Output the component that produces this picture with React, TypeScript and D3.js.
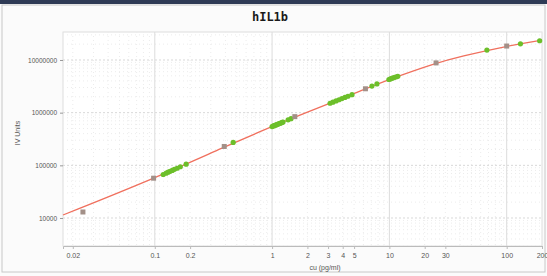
import * as d3 from "d3";
import { useEffect, useRef } from "react";

// standards (4-fold dilution series), concentration pg/ml and IV units
const stdConc = [0.0244, 0.0977, 0.391, 1.5625, 6.25, 25, 100];
const stdUnits = [13000, 57000, 228000, 840000, 2840000, 8800000, 18400000];

// samples read back from the curve
const sampleConc = [
  0.118, 0.125, 0.13, 0.135, 0.141, 0.147, 0.155, 0.165, 0.185, 0.466,
  1.0, 1.02, 1.04, 1.06, 1.08, 1.1, 1.12, 1.15, 1.17, 1.2, 1.22, 1.24, 1.37, 1.45,
  3.12, 3.3, 3.51, 3.72, 3.94, 4.18, 4.43, 4.8, 7.1, 7.83,
  9.9, 10.2, 10.5, 10.8, 11.1, 11.5, 11.8, 67.8, 131, 191,
];
const sampleUnits = [
  67000, 71000, 74000, 77000, 80000, 84000, 88000, 94000, 105000, 272000,
  545000, 556000, 566000, 576000, 585000, 595000, 605000, 620000, 629000, 642000, 654000, 664000, 732000, 769000,
  1510000, 1580000, 1670000, 1760000, 1850000, 1950000, 2050000, 2200000, 3200000, 3510000,
  4260000, 4370000, 4480000, 4580000, 4680000, 4810000, 4910000, 15400000, 20300000, 23200000,
];

// fitted curve
const fitConc = [0.0165, 0.1, 0.4, 1, 1.6, 6.3, 10, 25, 40, 100, 200];
const fitUnits = [11400, 56900, 228000, 545000, 841000, 2840000, 4300000, 8780000, 11600000, 18400000, 23800000];

const xTicks = [0.02, 0.1, 0.2, 1, 2, 3, 4, 5, 10, 20, 30, 100, 200];
const yTicks = [10000, 100000, 1000000, 10000000];

export default function App() {
  const ref = useRef<SVGSVGElement>(null);

  useEffect(() => {
    document.body.style.margin = "0";
    const width = 547;
    const height = 276;
    const left = 63, right = 542, top = 32, bottom = 246;

    const x = d3.scaleLog().domain([0.0165, 200]).range([left, right]);
    const y = d3.scaleLog().domain([2940, 34000000]).range([bottom, top]);

    const svg = d3.select(ref.current);
    svg.selectAll("*").remove();
    svg.attr("width", width).attr("height", height).attr("viewBox", [0, 0, width, height]);

    // page / frame
    svg.append("rect").attr("width", width).attr("height", height).attr("fill", "#fbfbfb");
    svg.append("rect").attr("width", width).attr("height", 4).attr("fill", "#2e3a55");
    svg.append("rect")
      .attr("x", 2).attr("y", 5).attr("width", width - 4).attr("height", 267)
      .attr("fill", "none").attr("stroke", "#c8c8c8");

    // title
    svg.append("text")
      .attr("x", 270).attr("y", 21)
      .attr("text-anchor", "middle")
      .attr("font-family", "DejaVu Sans Mono")
      .attr("font-weight", "bold")
      .attr("font-size", 12)
      .attr("fill", "#1a1a1a")
      .text("hIL1b");

    svg.append("rect")
      .attr("x", left).attr("y", top).attr("width", right - left).attr("height", bottom - top)
      .attr("fill", "#fff").attr("stroke", "#dedede");

    // minor grid
    const grid = svg.append("g");
    const minorX = x.ticks().filter((v) => ![0.1, 1, 10, 100].includes(v));
    grid.selectAll(".mx").data(minorX).join("line")
      .attr("x1", (d) => x(d)).attr("x2", (d) => x(d))
      .attr("y1", top).attr("y2", bottom)
      .attr("stroke", "#ececec").attr("stroke-dasharray", "1,3");
    grid.selectAll(".my").data(y.ticks().filter((v) => !yTicks.includes(v))).join("line")
      .attr("x1", left).attr("x2", right)
      .attr("y1", (d) => y(d)).attr("y2", (d) => y(d))
      .attr("stroke", "#ececec").attr("stroke-dasharray", "1,3");
    // major grid
    grid.selectAll(".Mx").data([0.1, 1, 10, 100]).join("line")
      .attr("x1", (d) => x(d)).attr("x2", (d) => x(d))
      .attr("y1", top).attr("y2", bottom)
      .attr("stroke", "#dcdcdc");
    grid.selectAll(".My").data(yTicks).join("line")
      .attr("x1", left).attr("x2", right)
      .attr("y1", (d) => y(d)).attr("y2", (d) => y(d))
      .attr("stroke", "#d8d8d8").attr("stroke-dasharray", "2,2");

    // axes
    svg.append("g")
      .attr("transform", `translate(0,${bottom})`)
      .call(d3.axisBottom(x).tickValues(xTicks).tickFormat((d) => String(d)).tickSize(3))
      .call((g) => g.select(".domain").attr("stroke", "#bbb"))
      .call((g) => g.selectAll(".tick line").attr("stroke", "#bbb"))
      .call((g) => g.selectAll("text").attr("fill", "#555").attr("font-size", 7).attr("font-family", "Liberation Sans").attr("dy", "0.9em"));

    svg.append("g")
      .attr("transform", `translate(${left},0)`)
      .call(d3.axisLeft(y).tickValues(yTicks).tickFormat((d) => String(d)).tickSize(3))
      .call((g) => g.select(".domain").remove())
      .call((g) => g.selectAll(".tick line").attr("stroke", "#999"))
      .call((g) => g.selectAll("text").attr("fill", "#555").attr("font-size", 6.5).attr("font-family", "Liberation Sans"));

    svg.append("text")
      .attr("transform", "translate(20,133) rotate(-90)")
      .attr("text-anchor", "middle")
      .attr("font-family", "Liberation Sans")
      .attr("font-size", 7)
      .attr("fill", "#555")
      .text("IV Units");

    svg.append("text")
      .attr("x", 325).attr("y", 270)
      .attr("text-anchor", "middle")
      .attr("font-family", "Liberation Sans")
      .attr("font-size", 7)
      .attr("fill", "#555")
      .text("cu (pg/ml)");

    // fitted curve
    const fit = fitConc.map((c, i) => [c, fitUnits[i]] as [number, number]);
    svg.append("path")
      .datum(fit)
      .attr("fill", "none")
      .attr("stroke", "#f0705e")
      .attr("stroke-width", 1.3)
      .attr("d", d3.line<[number, number]>().x((d) => x(d[0])).y((d) => y(d[1])).curve(d3.curveBasis));

    // samples
    svg.append("g").selectAll("circle")
      .data(sampleConc.map((c, i) => [c, sampleUnits[i]]))
      .join("circle")
      .attr("cx", (d) => x(d[0])).attr("cy", (d) => y(d[1]))
      .attr("r", 2.6)
      .attr("fill", "#6cbf2a");

    // standards
    svg.append("g").selectAll("rect")
      .data(stdConc.map((c, i) => [c, stdUnits[i]]))
      .join("rect")
      .attr("x", (d) => x(d[0]) - 2.5).attr("y", (d) => y(d[1]) - 2.5)
      .attr("width", 5).attr("height", 5)
      .attr("fill", "#a39088");
  }, []);

  return <svg ref={ref} style={{ display: "block" }}></svg>;
}
